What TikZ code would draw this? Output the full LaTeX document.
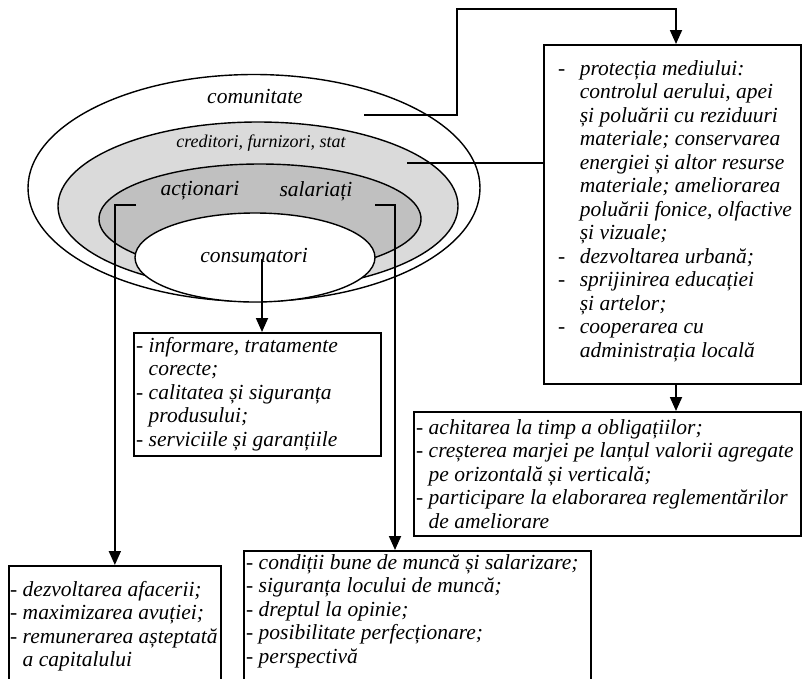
\documentclass[tikz,border=0pt]{standalone}
\usepackage{fontspec}
\setmainfont{Liberation Serif}
\usetikzlibrary{arrows.meta,shapes.geometric}
\definecolor{ringlight}{HTML}{DADADA}
\definecolor{ringdark}{HTML}{C0C0C0}
\begin{document}
\begin{tikzpicture}[x=1pt,y=-1pt,
  ring/.style={ellipse,draw,line width=1.4pt,inner sep=0},
  lbl/.style={inner sep=0,font=\fontsize{21.5}{23.5}\selectfont\itshape},
  box/.style={draw,line width=1.7pt,anchor=north west,inner sep=0},
  txt/.style={anchor=north west,inner sep=0,font=\fontsize{21.5}{23.5}\selectfont\itshape},
  link/.style={line width=1.8pt},
  arr/.style={line width=1.8pt,-{Triangle[length=14pt,width=12pt]}}]
\useasboundingbox (0,0) rectangle (805,678);
\clip (0,0) rectangle (805,678);

% nested stakeholder rings
\node[ring,fill=white,minimum width=452,minimum height=227] (outer) at (254,188) {};
\node[ring,fill=ringlight,minimum width=400,minimum height=168] (mid) at (258,206) {};
\node[ring,fill=ringdark,minimum width=322,minimum height=110] (inner) at (260,219) {};
\node[ring,fill=white,minimum width=240,minimum height=89] (core) at (255,257.5) {};

\node[lbl] (lcom) at (255,97) {comunitate};
\node[lbl,font=\fontsize{18}{20}\selectfont\itshape] (lcred) at (261,143) {creditori, furnizori, stat};
\node[lbl] (lact) at (200,191) {acționari};
\node[lbl] (lsal) at (316,191) {salariați};
\node[lbl] (lcons) at (254,256) {consumatori};

% expectation boxes
\node[box,minimum width=257,minimum height=339] (bmed) at (543,44) {};
\node[box,minimum width=247,minimum height=123] (bcons) at (133,332) {};
\node[box,minimum width=387,minimum height=124] (bcred) at (413,411) {};
\node[box,minimum width=212,minimum height=140] (bact) at (8,565) {};
\node[box,minimum width=347,minimum height=150] (bsal) at (243,550) {};

\node[txt] (tmed) at (558,58.5) {\begin{tabular}{@{}l@{\hspace{14.5pt}}l@{}}
- & protecția mediului:\\
  & controlul aerului, apei\\
  & și poluării cu reziduuri\\
  & materiale; conservarea\\
  & energiei și altor resurse\\
  & materiale; ameliorarea\\
  & poluării fonice, olfactive\\
  & și vizuale;\\
- & dezvoltarea urbană;\\
- & sprijinirea educației\\
  & și artelor;\\
- & cooperarea cu\\
  & administrația locală
\end{tabular}};

\node[txt] (tcons) at (136,335.5) {\begin{tabular}{@{}l@{ }l@{}}
- & informare, tratamente\\
  & corecte;\\
- & calitatea și siguranța\\
  & produsului;\\
- & serviciile și garanțiile
\end{tabular}};

\node[txt] (tcred) at (416,417.5) {\begin{tabular}{@{}l@{ }l@{}}
- & achitarea la timp a obligațiilor;\\
- & creșterea marjei pe lanțul valorii agregate\\
  & pe orizontală și verticală;\\
- & participare la elaborarea reglementărilor\\
  & de ameliorare
\end{tabular}};

\node[txt] (tact) at (10,579.5) {\begin{tabular}{@{}l@{ }l@{}}
- & dezvoltarea afacerii;\\
- & maximizarea avuției;\\
- & remunerarea așteptată\\
  & a capitalului
\end{tabular}};

\node[txt] (tsal) at (246,552.5) {\begin{tabular}{@{}l@{ }l@{}}
- & condiții bune de muncă și salarizare;\\
- & siguranța locului de muncă;\\
- & dreptul la opinie;\\
- & posibilitate perfecționare;\\
- & perspectivă
\end{tabular}};

% connectors
\coordinate (pcom) at (364,115);
\coordinate (pcred) at (407,163);
\coordinate (pact) at (136,205);
\coordinate (psal) at (375,205);
\coordinate (pcons) at (262,259);
\coordinate (xmed) at (676,0);
\coordinate (xsal) at (395,0);

\draw[arr] (pcom) -| (457,9) -| (bmed.north -| xmed);
\draw[link] (pcred) -- (pcred -| bmed.west);
\draw[arr] (bmed.south -| xmed) -- (bcred.north -| xmed);
\draw[arr] (pcons) -- (pcons |- bcons.north);
\draw[arr] (pact) -| (bact.north);
\draw[arr] (psal) -| (bsal.north -| xsal);
\end{tikzpicture}
\end{document}
